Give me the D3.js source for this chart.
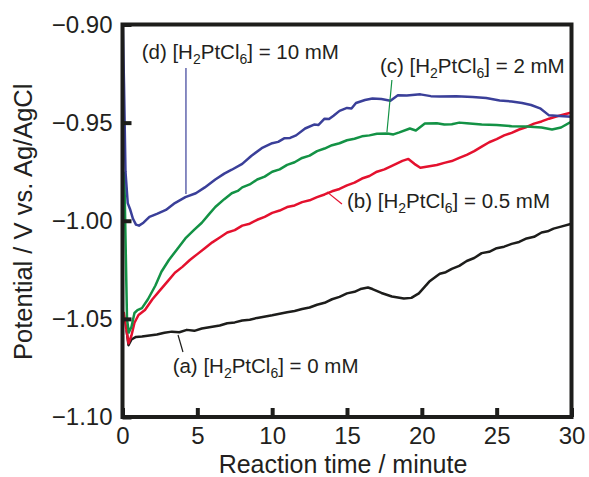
<!DOCTYPE html>
<html>
<head>
<meta charset="utf-8">
<script src="https://cdn.jsdelivr.net/npm/d3@7"></script>
<style>
  body { margin: 0; background: #fff; }
  svg text { font-family: "Liberation Sans", Arial, Helvetica, sans-serif; fill: #231f20; }
</style>
</head>
<body>
<svg id="chart" width="589" height="477"></svg>
<script>
'use strict';

// time (min), potential (V vs Ag/AgCl)
var seriesA = [[0.27,-1.0557],[0.4,-1.0634],[0.6,-1.0605],[0.9,-1.0592],[1.3,-1.0590],[1.8,-1.0585],[2.3,-1.0580],[2.8,-1.0571],[3.3,-1.0565],[3.8,-1.0568],[4.3,-1.0556],[4.8,-1.0561],[5.3,-1.0549],[6,-1.0540],[6.5,-1.0534],[7,-1.0522],[7.5,-1.0518],[8,-1.0508],[8.5,-1.0504],[9,-1.0495],[10,-1.0482],[11,-1.0466],[11.5,-1.0460],[12,-1.0450],[12.5,-1.0442],[13,-1.0428],[13.5,-1.0418],[14,-1.0400],[14.5,-1.0388],[15,-1.0370],[15.5,-1.0362],[15.9,-1.0348],[16.4,-1.0340],[16.7,-1.0348],[17.3,-1.0368],[18,-1.0386],[18.8,-1.0396],[19.3,-1.0393],[19.8,-1.0370],[20.5,-1.0310],[21.2,-1.0270],[21.6,-1.0262],[22,-1.0245],[22.5,-1.0230],[23,-1.0205],[23.5,-1.0190],[24,-1.0165],[24.5,-1.0158],[25,-1.0140],[25.5,-1.0132],[26,-1.0118],[26.5,-1.0108],[27,-1.0090],[27.5,-1.0082],[28,-1.0060],[28.4,-1.0054],[28.8,-1.0040],[29.3,-1.0030],[30,-1.0015]];

var seriesB = [[0.08,-1.0465],[0.4,-1.0625],[0.6,-1.0585],[0.8,-1.0520],[1.07,-1.0480],[1.5,-1.0455],[2.0,-1.0400],[2.5,-1.0355],[3.0,-1.0310],[3.5,-1.0265],[4.0,-1.0235],[4.5,-1.0200],[5.0,-1.0170],[5.5,-1.0140],[6,-1.0110],[6.5,-1.0085],[7,-1.0060],[7.5,-1.0048],[8,-1.0025],[8.5,-1.0015],[9,-0.9995],[9.5,-0.9980],[10,-0.9960],[10.5,-0.9948],[11,-0.9930],[11.5,-0.9922],[12,-0.9905],[12.5,-0.9896],[13,-0.9880],[13.5,-0.9866],[14,-0.9850],[14.5,-0.9838],[15,-0.9820],[15.5,-0.9806],[16,-0.9785],[16.5,-0.9772],[17,-0.9750],[17.5,-0.9738],[18,-0.9720],[18.7,-0.9695],[19.1,-0.9685],[19.5,-0.9710],[19.9,-0.9730],[20.5,-0.9722],[21,-0.9716],[21.5,-0.9705],[22,-0.9696],[22.5,-0.9680],[23,-0.9664],[23.5,-0.9645],[24,-0.9622],[24.5,-0.9600],[25,-0.9584],[25.5,-0.9565],[26,-0.9552],[26.5,-0.9535],[27,-0.9522],[27.5,-0.9505],[28,-0.9494],[28.5,-0.9480],[29.3,-0.9462],[30,-0.9448]];

var seriesC = [[0.12,-0.975],[0.3,-1.050],[0.42,-1.057],[0.6,-1.054],[0.8,-1.047],[1.0,-1.0455],[1.3,-1.0445],[1.7,-1.040],[2.2,-1.033],[2.6,-1.026],[3.1,-1.020],[3.6,-1.015],[4.2,-1.009],[4.8,-1.0045],[5.3,-1.001],[5.8,-0.9965],[6.2,-0.993],[6.8,-0.989],[7.3,-0.986],[7.7,-0.9848],[8,-0.983],[8.5,-0.9815],[9,-0.979],[9.5,-0.9775],[10,-0.975],[10.5,-0.9738],[11,-0.9715],[11.5,-0.9702],[12,-0.968],[12.5,-0.9668],[13,-0.9645],[13.5,-0.9632],[14,-0.9615],[14.5,-0.9605],[15,-0.959],[15.5,-0.9582],[16,-0.957],[16.5,-0.9565],[17,-0.9557],[17.7,-0.9555],[18.1,-0.9560],[18.5,-0.955],[19.2,-0.953],[19.6,-0.954],[20.2,-0.9505],[21,-0.9503],[21.5,-0.9510],[22,-0.9508],[22.5,-0.9500],[23,-0.9503],[24,-0.951],[25,-0.9512],[26,-0.9518],[27,-0.952],[28,-0.9525],[28.7,-0.9535],[29.3,-0.9525],[30,-0.9495]];

var seriesD = [[0.02,-0.900],[0.1,-0.930],[0.2,-0.975],[0.35,-0.991],[0.5,-0.994],[0.7,-0.999],[0.9,-1.002],[1.1,-1.0025],[1.4,-1.001],[1.8,-0.998],[2.3,-0.9965],[2.9,-0.9945],[3.5,-0.991],[4.2,-0.988],[4.9,-0.986],[5.5,-0.983],[6.2,-0.979],[6.8,-0.976],[7.3,-0.974],[8,-0.971],[8.6,-0.967],[9.3,-0.963],[10,-0.9605],[10.4,-0.9598],[10.8,-0.958],[11.2,-0.9578],[11.6,-0.9565],[12.2,-0.953],[12.8,-0.951],[13.1,-0.9512],[13.5,-0.948],[13.8,-0.9482],[14.1,-0.9465],[14.5,-0.9440],[15,-0.9425],[15.3,-0.9428],[15.6,-0.940],[16.2,-0.9385],[16.7,-0.9377],[17.3,-0.938],[17.9,-0.9388],[18.4,-0.936],[19,-0.9362],[19.9,-0.9356],[20.6,-0.9365],[21.2,-0.9367],[22.3,-0.9365],[23.4,-0.937],[24.3,-0.9375],[25.2,-0.9387],[26,-0.9392],[26.7,-0.940],[27.3,-0.941],[27.9,-0.9427],[28.5,-0.9463],[29.2,-0.9466],[30,-0.947]];

var xTicks = [0, 5, 10, 15, 20, 25, 30];
var yTicks = [-0.90, -0.95, -1.00, -1.05, -1.10];

// label: prefix, conc, text position and leader line in data units
var labels = [
  { key: 'a', conc: '0', tx: 3.35, ty: -1.0776, line: [[3.71, -1.0582], [4.04, -1.0669]] },
  { key: 'b', conc: '0.5', tx: 15.0, ty: -0.9935, line: [[13.66, -0.9853], [14.66, -0.9915]] },
  { key: 'c', conc: '2', tx: 17.2, ty: -0.9247, line: [[17.67, -0.9548], [18.0, -0.9283]] },
  { key: 'd', conc: '10', tx: 1.28, ty: -0.9175, line: [[4.24, -0.9864], [4.24, -0.9222]] }
];

var colors = { a: '#1d1d1b', b: '#e4112e', c: '#139245', d: '#3a3f99' };
var allSeries = [
  { key: 'a', values: seriesA },
  { key: 'b', values: seriesB },
  { key: 'c', values: seriesC },
  { key: 'd', values: seriesD }
];

var svg = d3.select('#chart');

var x = d3.scaleLinear().domain([0, 30]).range([122.5, 571.5]);
var y = d3.scaleLinear().domain([-0.90, -1.10]).range([24.5, 417]);

svg.append('clipPath').attr('id', 'plotclip')
  .append('rect')
  .attr('x', x(0)).attr('y', y(-0.90))
  .attr('width', x(30) - x(0)).attr('height', y(-1.10) - y(-0.90));

var line = d3.line()
  .x(function(d) { return x(d[0]); })
  .y(function(d) { return y(d[1]); });

svg.append('g').attr('clip-path', 'url(#plotclip)')
  .selectAll('path')
  .data(allSeries)
  .enter()
  .append('path')
  .attr('d', function(d) { return line(d.values); })
  .attr('fill', 'none')
  .attr('stroke', function(d) { return colors[d.key]; })
  .attr('stroke-width', 2.5)
  .attr('stroke-linejoin', 'round');

// leader lines
svg.append('g').selectAll('line')
  .data(labels)
  .enter()
  .append('line')
  .attr('x1', function(d) { return x(d.line[0][0]); })
  .attr('y1', function(d) { return y(d.line[0][1]); })
  .attr('x2', function(d) { return x(d.line[1][0]); })
  .attr('y2', function(d) { return y(d.line[1][1]); })
  .attr('stroke', function(d) { return colors[d.key]; })
  .attr('stroke-width', 1.2);

var lab = svg.append('g').selectAll('text')
  .data(labels)
  .enter()
  .append('text')
  .attr('x', function(d) { return x(d.tx); })
  .attr('y', function(d) { return y(d.ty); })
  .style('font-size', '20.5px');

lab.each(function(d) {
  var t = d3.select(this);
  t.append('tspan').text('(' + d.key + ') [H');
  t.append('tspan').attr('dy', 5).style('font-size', '14px').text('2');
  t.append('tspan').attr('dy', -5).text('PtCl');
  t.append('tspan').attr('dy', 5).style('font-size', '14px').text('6');
  t.append('tspan').attr('dy', -5).text('] = ' + d.conc + ' mM');
});

// axes
var xAxis = d3.axisBottom(x).tickValues(xTicks).tickSizeInner(-9).tickSizeOuter(0).tickPadding(10)
  .tickFormat(d3.format('d'));
var yAxis = d3.axisLeft(y).tickValues(yTicks).tickSizeInner(-9).tickSizeOuter(0).tickPadding(10)
  .tickFormat(d3.format('.2f'));

var gx = svg.append('g').attr('transform', 'translate(0,' + y(-1.10) + ')').call(xAxis);
var gy = svg.append('g').attr('transform', 'translate(' + x(0) + ',0)').call(yAxis);

[gx, gy].forEach(function(g) {
  g.select('.domain').remove();
  g.selectAll('.tick line').attr('stroke', '#1d1d1b').attr('stroke-width', 4);
  g.selectAll('.tick text')
    .style('font-size', '24px')
    .style('font-family', '"Liberation Sans", Arial, Helvetica, sans-serif')
    .attr('fill', '#231f20');
});

// frame
svg.append('rect')
  .attr('x', x(0)).attr('y', y(-0.90))
  .attr('width', x(30) - x(0)).attr('height', y(-1.10) - y(-0.90))
  .attr('fill', 'none')
  .attr('stroke', '#1d1d1b')
  .attr('stroke-width', 4);

svg.append('text')
  .attr('x', (x(0) + x(30)) / 2 - 4)
  .attr('y', 473)
  .attr('text-anchor', 'middle')
  .style('font-size', '25px')
  .text('Reaction time / minute');

svg.append('text')
  .attr('transform', 'translate(32,' + ((y(-0.90) + y(-1.10)) / 2 + 1) + ') rotate(-90)')
  .attr('text-anchor', 'middle')
  .style('font-size', '25.5px')
  .text('Potential / V vs. Ag/AgCl');
</script>
</body>
</html>
